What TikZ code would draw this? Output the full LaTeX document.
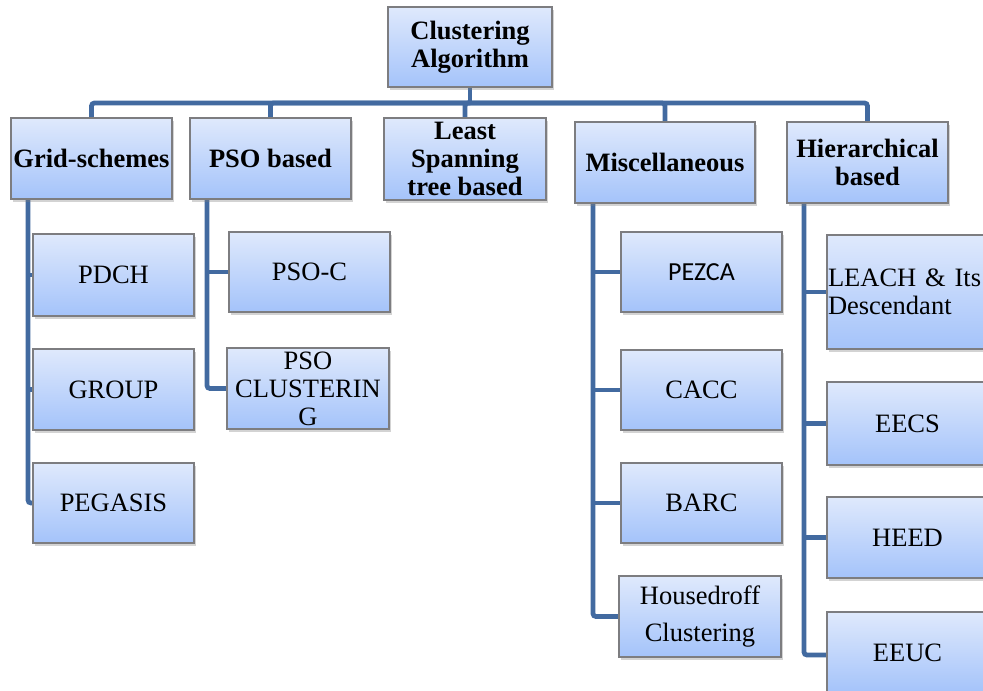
\documentclass[tikz,border=0pt]{standalone}
\usepackage{fontspec}
\setmainfont{Liberation Serif}
\newfontfamily\calibrisub{Carlito}
\usetikzlibrary{shadows,backgrounds}

\definecolor{boxtop}{RGB}{223,233,252}
\definecolor{boxbot}{RGB}{164,195,250}
\definecolor{boxline}{RGB}{125,125,128}
\definecolor{linkblue}{RGB}{66,106,160}

\tikzset{
  catbox/.style={draw=boxline, line width=1.1pt, top color=boxtop, bottom color=boxbot,
    drop shadow={shadow xshift=2pt, shadow yshift=-3pt, opacity=0.35},
    inner sep=1pt, align=center, font=\fontsize{26.5}{28}\selectfont},
  headbox/.style={catbox, font=\fontsize{26.5}{28}\selectfont\bfseries},
  link/.style={draw=linkblue, line width=4.8pt, rounded corners=3pt}
}

\begin{document}
\begin{tikzpicture}[x=1pt, y=-1pt]
\clip (0,0) rectangle (983,691);

% root
\node[headbox, minimum width=164pt, minimum height=80pt] (root) at (470,47) {Clustering\\Algorithm};

% first level
\node[headbox, minimum width=161pt, minimum height=81pt] (grid)  at (91.5,158.5) {Grid-schemes};
\node[headbox, minimum width=161pt, minimum height=81pt] (pso)   at (270.5,158.5) {PSO based};
\node[headbox, minimum width=162pt, minimum height=82pt] (least) at (465,159) {Least\\Spanning\\tree based};
\node[headbox, minimum width=180pt, minimum height=81pt] (misc)  at (665,162.5) {Miscellaneous};
\node[headbox, minimum width=161pt, minimum height=81pt] (hier)  at (867.5,162.5) {Hierarchical\\based};

% grid-schemes children
\node[catbox, minimum width=161pt, minimum height=82pt] (pdch)    at (113.5,275) {PDCH};
\node[catbox, minimum width=161pt, minimum height=81pt] (group)   at (113.5,389.5) {GROUP};
\node[catbox, minimum width=161pt, minimum height=80pt] (pegasis) at (113.5,503) {PEGASIS};

% PSO children
\node[catbox, minimum width=161pt, minimum height=80pt] (psoc)  at (309.5,272) {PSO-C};
\node[catbox, minimum width=162pt, minimum height=81pt] (psocl) at (308,388.5) {PSO\\CLUSTERIN\\G};

% miscellaneous children
\node[catbox, minimum width=161pt, minimum height=80pt, font=\calibrisub\fontsize{26}{28}\selectfont] (pezca) at (701.5,272) {PEZCA};
\node[catbox, minimum width=161pt, minimum height=80pt] (cacc)  at (701.5,390) {CACC};
\node[catbox, minimum width=161pt, minimum height=80pt] (barc)  at (701.5,503) {BARC};
\node[catbox, minimum width=162pt, minimum height=81pt, font=\fontsize{26.5}{37}\selectfont] (housd) at (700,616.5) {Housedroff\\Clustering};

% hierarchical children
\node[catbox, minimum width=161pt, minimum height=114pt, text width=159pt, align=left] (leach) at (907.5,292) {LEACH \& Its\\Descendant};
\node[catbox, minimum width=161pt, minimum height=83pt] (eecs) at (907.5,423.5) {EECS};
\node[catbox, minimum width=161pt, minimum height=81pt] (heed) at (907.5,537.5) {HEED};
\node[catbox, minimum width=161pt, minimum height=81pt] (eeuc) at (907.5,652.5) {EEUC};

% bus level and trunk tops
\coordinate (bus) at (470,103);
\coordinate (gridtrunk) at (28,199.5);
\coordinate (psotrunk)  at (207,199.5);
\coordinate (misctrunk) at (593,203);
\coordinate (hiertrunk) at (804,203);

\begin{scope}[on background layer]
  % root to first level
  \draw[link] (root.south) -- (bus);
  \draw[link] (bus) -| (grid.north);
  \draw[link] (bus) -| (pso.north);
  \draw[link] (bus) -| (least.north);
  \draw[link] (bus) -| (misc.north);
  \draw[link] (bus) -| (hier.north);

  % grid-schemes trunk
  \draw[link] (gridtrunk) |- (pegasis.west);
  \draw[link] (gridtrunk |- pdch.west) -- (pdch.west);
  \draw[link] (gridtrunk |- group.west) -- (group.west);

  % PSO trunk
  \draw[link] (psotrunk) |- (psocl.west);
  \draw[link] (psotrunk |- psoc.west) -- (psoc.west);

  % miscellaneous trunk
  \draw[link] (misctrunk) |- (housd.west);
  \draw[link] (misctrunk |- pezca.west) -- (pezca.west);
  \draw[link] (misctrunk |- cacc.west) -- (cacc.west);
  \draw[link] (misctrunk |- barc.west) -- (barc.west);

  % hierarchical trunk
  \draw[link] (hiertrunk) |- ([yshift=-2.5pt]eeuc.west);
  \draw[link] (hiertrunk |- leach.west) -- (leach.west);
  \draw[link] (hiertrunk |- eecs.west) -- (eecs.west);
  \draw[link] (hiertrunk |- heed.west) -- (heed.west);
\end{scope}
\end{tikzpicture}
\end{document}
